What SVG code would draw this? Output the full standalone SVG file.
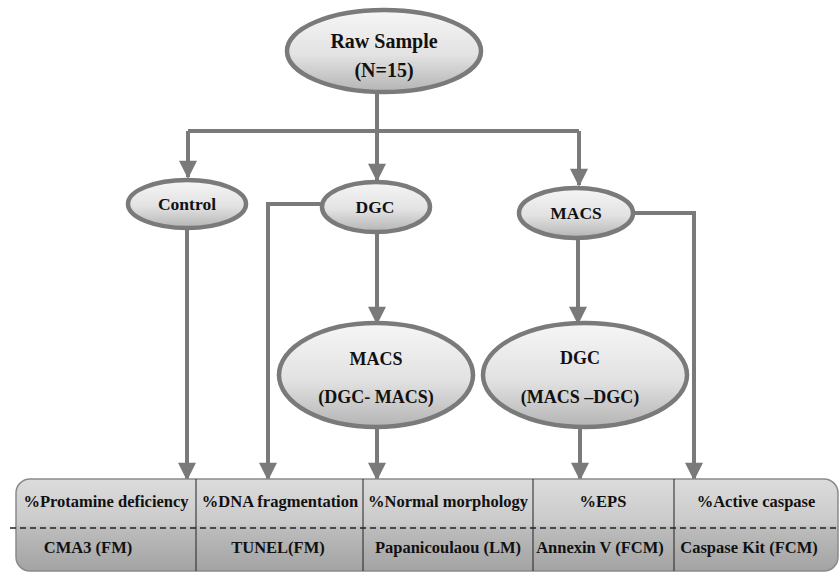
<svg xmlns="http://www.w3.org/2000/svg" width="840" height="573" viewBox="0 0 840 573">
<defs>
<linearGradient id="eg" x1="0" y1="0" x2="0" y2="1">
<stop offset="0" stop-color="#f6f6f6"/><stop offset="0.55" stop-color="#e2e2e2"/><stop offset="1" stop-color="#b4b4b4"/>
</linearGradient>
<linearGradient id="tg" x1="0" y1="0" x2="0" y2="1">
<stop offset="0" stop-color="#dcdcdc"/><stop offset="0.5" stop-color="#c9c9c9"/><stop offset="0.52" stop-color="#bdbdbd"/><stop offset="1" stop-color="#a3a3a3"/>
</linearGradient>
<marker id="ah" viewBox="0 0 10 10" refX="9" refY="5" markerWidth="5" markerHeight="4.5" orient="auto" markerUnits="strokeWidth">
<path d="M0,0 L10,5 L0,10 z" fill="#7a7a7a"/>
</marker>
</defs>
<style>
.e{fill:url(#eg);stroke:#7a7a7a;stroke-width:4.5}
.c{fill:none;stroke:#7a7a7a;stroke-width:4}
.t{font-family:"Liberation Serif","Times New Roman",serif;font-weight:bold;fill:#111;text-anchor:middle}
.r{font-size:20px}
.n{font-size:18px}
.m{font-size:17.5px}
.s{font-size:16.5px}
.d{stroke:#222;stroke-width:1}
</style>
<rect width="840" height="573" fill="#fff"/>
<g id="connectors">
<path class="c" d="M377,92 V131"/>
<path class="c" d="M188,131 H579"/>
<path class="c" d="M188,131 V177" marker-end="url(#ah)"/>
<path class="c" d="M377,131 V180" marker-end="url(#ah)"/>
<path class="c" d="M579,131 V185" marker-end="url(#ah)"/>
<path class="c" d="M187,228 V479" marker-end="url(#ah)"/>
<path class="c" d="M322,204 H268 V479" marker-end="url(#ah)"/>
<path class="c" d="M377,232 V323" marker-end="url(#ah)"/>
<path class="c" d="M578,238 V323" marker-end="url(#ah)"/>
<path class="c" d="M633,213 H694 V479" marker-end="url(#ah)"/>
<path class="c" d="M377,427 V479" marker-end="url(#ah)"/>
<path class="c" d="M580,428 V479" marker-end="url(#ah)"/>
</g>
<g id="raw">
<ellipse class="e" cx="384" cy="51" rx="97" ry="41"/>
<text class="t r" x="384" y="48">Raw Sample</text>
<text class="t r" x="384" y="77">(N=15)</text>
</g>
<g id="control">
<ellipse class="e" cx="187" cy="204" rx="59" ry="24"/>
<text class="t m" x="187" y="210">Control</text>
</g>
<g id="dgc">
<ellipse class="e" cx="376" cy="207" rx="54" ry="25"/>
<text class="t m" x="375" y="213">DGC</text>
</g>
<g id="macs">
<ellipse class="e" cx="576" cy="213" rx="57" ry="25"/>
<text class="t m" x="576" y="219">MACS</text>
</g>
<g id="dgc-macs">
<ellipse class="e" cx="376" cy="375" rx="97" ry="52"/>
<text class="t n" x="376" y="365">MACS</text>
<text class="t n" x="376" y="403">(DGC- MACS)</text>
</g>
<g id="macs-dgc">
<ellipse class="e" cx="585" cy="375" rx="102" ry="52"/>
<text class="t n" x="580" y="364">DGC</text>
<text class="t n" x="580" y="403">(MACS –DGC)</text>
</g>
<g id="table">
<rect x="16" y="479" width="822" height="92" rx="14" fill="url(#tg)" stroke="#8a8a8a" stroke-width="1.5"/>
<line class="d" x1="196" y1="479" x2="196" y2="571"/>
<line class="d" x1="363" y1="479" x2="363" y2="571"/>
<line class="d" x1="533" y1="479" x2="533" y2="571"/>
<line class="d" x1="674" y1="479" x2="674" y2="571"/>
<line x1="10" y1="528" x2="840" y2="528" stroke="#222" stroke-width="1.5" stroke-dasharray="6,4"/>
<text class="t s" x="106" y="507">%Protamine deficiency</text>
<text class="t s" x="280" y="507">%DNA fragmentation</text>
<text class="t s" x="448" y="507">%Normal morphology</text>
<text class="t s" x="603" y="507">%EPS</text>
<text class="t s" x="756" y="507">%Active caspase</text>
<text class="t s" x="88" y="553">CMA3 (FM)</text>
<text class="t s" x="278" y="553">TUNEL(FM)</text>
<text class="t s" x="448" y="553">Papanicoulaou (LM)</text>
<text class="t s" x="600" y="553">Annexin V (FCM)</text>
<text class="t s" x="749" y="553">Caspase Kit (FCM)</text>
</g>
</svg>
